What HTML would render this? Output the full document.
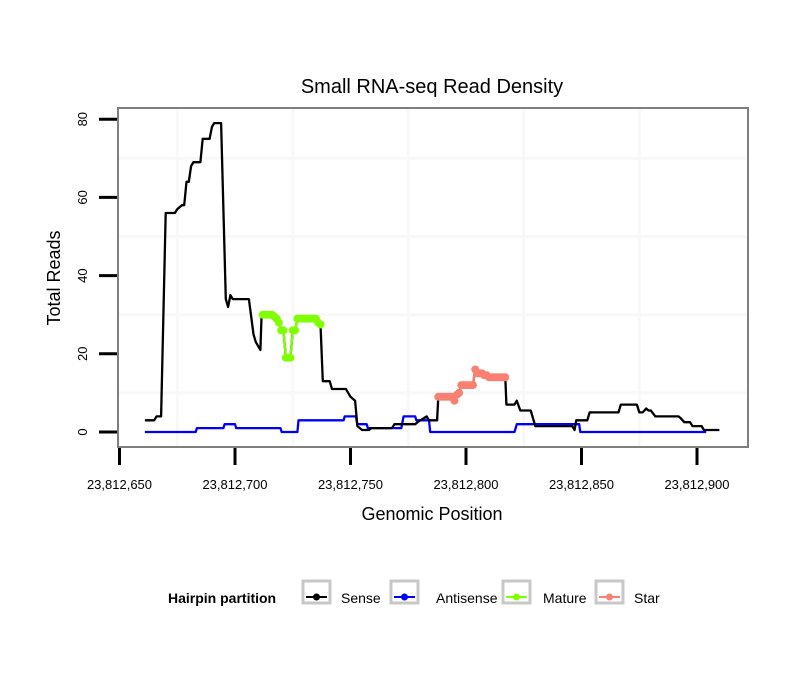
<!DOCTYPE html>
<html><head><meta charset="utf-8"><style>
body{margin:0;background:#fff;}
svg{display:block;font-family:"Liberation Sans",sans-serif;}
</style></head><body>
<svg id="chart" width="810" height="690" viewBox="0 0 810 690">
<text x="432" y="93" text-anchor="middle" font-size="20">Small RNA-seq Read Density</text>
<rect x="118" y="108" width="630" height="339" fill="#fff"/>
<g id="grid"></g>
<g id="series"></g>
<rect x="118" y="108" width="630" height="339" fill="none" stroke="#7f7f7f" stroke-width="2"/>
<g id="axes"></g>
<text x="432" y="520" text-anchor="middle" font-size="18">Genomic Position</text>
<text transform="translate(60,278) rotate(-90)" text-anchor="middle" font-size="18">Total Reads</text>
<g>
<text x="168" y="603" font-size="14" font-weight="bold">Hairpin partition</text>
<g><rect x="303" y="581" width="27" height="22" fill="#fff" stroke="#c8c8c8" stroke-width="3"/><line x1="306" y1="597" x2="327" y2="597" stroke="#000" stroke-width="2"/><circle cx="316.5" cy="597" r="3.5" fill="#000"/><text x="341" y="603" font-size="14">Sense</text></g>
<g><rect x="391" y="581" width="27" height="22" fill="#fff" stroke="#c8c8c8" stroke-width="3"/><line x1="394" y1="597" x2="415" y2="597" stroke="#0000ff" stroke-width="2"/><circle cx="404.5" cy="597" r="3.5" fill="#0000ff"/><text x="436" y="603" font-size="14">Antisense</text></g>
<g><rect x="503" y="581" width="27" height="22" fill="#fff" stroke="#c8c8c8" stroke-width="3"/><line x1="506" y1="597" x2="527" y2="597" stroke="#7fff00" stroke-width="2"/><circle cx="516.5" cy="597" r="3.5" fill="#7fff00"/><text x="543" y="603" font-size="14">Mature</text></g>
<g><rect x="596" y="581" width="27" height="22" fill="#fff" stroke="#c8c8c8" stroke-width="3"/><line x1="599" y1="597" x2="620" y2="597" stroke="#fa8072" stroke-width="2"/><circle cx="609.5" cy="597" r="3.5" fill="#fa8072"/><text x="634" y="603" font-size="14">Star</text></g>
</g>
</svg>
<script>
const xTicks = [23812650, 23812700, 23812750, 23812800, 23812850, 23812900];
const xTickLabels = ["23,812,650","23,812,700","23,812,750","23,812,800","23,812,850","23,812,900"];
const yTicks = [0, 20, 40, 60, 80];
const senseOffsets = [661,665,666,668,670,674,675,677,678,679,680,681,682,685,686,689,690,691,694,696,697,698,699,706,708,709,711,711.5,716,717,718,719,720,721,722,723,724,725,726,727,735,736,737,738,741,742,748,749,750,752,753,755,758,759,768,769,778,779,783,784,787.5,788,794,795,796,797,798,803,804,805,807,808,810,817,817.5,821,822,823.5,828,830,846,847,847.7,852.5,853.5,866,867,874,875,876.5,878,879,880,882,892,893,894.5,897,898,902,903,909.7];
const senseValues = [3,3,4,4,56,56,57,58,58,64,64,68,69,69,75,75,78,79,79,34,32,35,34,34,25,23,21,30,30,29.5,29,28,26,26,19,19,19,26,26,29,29,28,27.5,13,13,11,11,10,9,8,1.5,0.5,0.5,1,1,2,2,2.5,4,3,3,9,9,8,9.5,10,12,12,16,15,15,14.5,14,14,7,7,8,5.5,5.5,1.5,1.5,0.5,3,3,5,5,7,7,5,5,6,5.5,5.5,4,4,3.5,2.5,2.5,1.5,1.5,0.5,0.5];
const antiOffsets = [661,683,683.5,695,695.5,700,700.5,719.7,720.2,727,727.5,747,747.5,752.4,752.9,757,757.5,772,773,778,778.5,784,784.5,821,822,849,849.5,904];
const antiValues = [0,0,1,1,2,2,1,1,0,0,3,3,4,4,2,2,1,1,4,4,3,3,0,0,2,2,0,0];
const matureOffsets = [712,713,714,715,716,717,718,719,720,721,722,723,724,725,726,727,728,729,730,731,732,733,734,735,736,737];
const matureValues = [30,30,30,30,30,29.5,29,28,26,26,19,19,19,26,26,29,29,29,29,29,29,29,29,29,28,27.5];
const starOffsets = [788,789,790,791,792,793,794,795,796,797,798,799,800,801,802,803,804,805,806,807,808,809,810,811,812,813,814,815,816,817];
const starValues = [9,9,9,9,9,9,9,8,9.5,10,12,12,12,12,12,12,16,15,15,15,14.5,14.5,14,14,14,14,14,14,14,14];

const BASE = 23812000;
const X = v => 119.5 + (v - 23812650) * 2.31;
const Y = v => 432 - v * 3.91;
const NS = "http://www.w3.org/2000/svg";
function mk(tag, attrs, parent){const e=document.createElementNS(NS,tag);for(const k in attrs)e.setAttribute(k,attrs[k]);parent.appendChild(e);return e;}

const grid = document.getElementById('grid');
for (let i = 0; i < xTicks.length - 1; i++) {
  const gx = X((xTicks[i] + xTicks[i+1]) / 2);
  const l = mk('line', {x1:gx, x2:gx, y1:108, y2:447, stroke:'#f8f8f8', 'stroke-width':3}, grid);
  
  
}
for (let i = 0; i < yTicks.length - 1; i++) {
  const gy = Y((yTicks[i] + yTicks[i+1]) / 2);
  const l = mk('line', {x1:118, x2:748, y1:gy, y2:gy, stroke:'#f8f8f8', 'stroke-width':3}, grid);
  
  
}

const axes = document.getElementById('axes');
xTicks.forEach((t, i) => {
  const tx = X(t);
  const l = mk('line', {x1:tx, x2:tx, y1:448, y2:465, stroke:'#000', 'stroke-width':3}, axes);
  
  
  const tl = mk('text', {x:tx, y:489, 'text-anchor':'middle', 'font-size':13}, axes);
  tl.textContent = xTickLabels[i];
  
  
});
yTicks.forEach(t => {
  const ty = Y(t);
  const l = mk('line', {x1:99, x2:117, y1:ty, y2:ty, stroke:'#000', 'stroke-width':3}, axes);
  
  
  const tl = mk('text', {transform:`translate(87,${ty}) rotate(-90)`, 'text-anchor':'middle', 'font-size':13}, axes);
  tl.textContent = String(t);
  
  
});

const series = document.getElementById('series');
function line(offs, vals, color, name){
  const d = offs.map((o,i)=>(i?'L':'M')+X(BASE+o).toFixed(1)+','+Y(vals[i]).toFixed(1)).join('');
  const p = mk('path', {d:d, fill:'none', stroke:color, 'stroke-width':2.3, 'stroke-linejoin':'round'}, series);
  
  
}
function points(offs, vals, color, name){
  line(offs, vals, color, name + '-line');
  offs.forEach((o,i)=>{
    const c = mk('circle', {cx:X(BASE+o), cy:Y(vals[i]), r:4, fill:color}, series);
    
    
  });
}
line(antiOffsets, antiValues, '#0000ff', 'antisense-line');
line(senseOffsets, senseValues, '#000000', 'sense-line');
points(matureOffsets, matureValues, '#7fff00', 'mature');
points(starOffsets, starValues, '#fa8072', 'star');
</script>
</body></html>
